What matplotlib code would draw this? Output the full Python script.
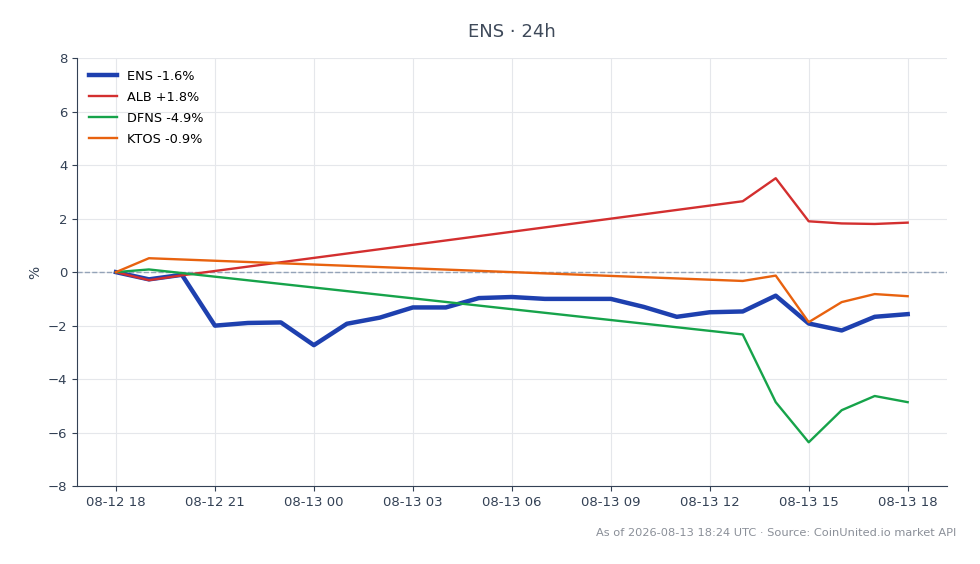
import datetime as dt
import matplotlib
matplotlib.use("Agg")
import matplotlib.pyplot as plt
import matplotlib.dates as mdates

# hours after 2026-08-12 18:00 UTC
start = dt.datetime(2026, 8, 12, 18)

ens_hours = list(range(25))
ens_pct = [0.0, -0.27, -0.1, -2.0, -1.9, -1.88, -2.73, -1.93, -1.7, -1.32, -1.32,
           -0.97, -0.93, -1.0, -1.0, -1.0, -1.3, -1.67, -1.5, -1.47, -0.88,
           -1.92, -2.18, -1.67, -1.57]

alb_hours = [0, 1, 2, 19, 20, 21, 22, 23, 24]
alb_pct = [0.0, -0.3, -0.12, 2.65, 3.51, 1.9, 1.82, 1.8, 1.85]

dfns_hours = [0, 1, 19, 20, 21, 22, 23, 24]
dfns_pct = [0.0, 0.1, -2.33, -4.86, -6.36, -5.16, -4.63, -4.86]

ktos_hours = [0, 1, 19, 20, 21, 22, 23, 24]
ktos_pct = [0.0, 0.52, -0.33, -0.13, -1.87, -1.12, -0.82, -0.9]

labels = ["ENS -1.6%", "ALB +1.8%", "DFNS -4.9%", "KTOS -0.9%"]


def to_times(hours):
    return [start + dt.timedelta(hours=h) for h in hours]


fig = plt.figure(figsize=(9.8, 5.64), dpi=100)
ax = fig.add_axes([0.0786, 0.138, 0.888, 0.759])

ax.plot(to_times(ens_hours), ens_pct, color="#1e40af", lw=3.2, label=labels[0], zorder=3)
ax.plot(to_times(alb_hours), alb_pct, color="#d32f2f", lw=1.7, label=labels[1], zorder=4)
ax.plot(to_times(dfns_hours), dfns_pct, color="#16a34a", lw=1.7, label=labels[2], zorder=4)
ax.plot(to_times(ktos_hours), ktos_pct, color="#e8620f", lw=1.7, label=labels[3], zorder=4)

ax.axhline(0, color="#94a3b8", lw=1, ls="--", zorder=2)

ax.set_ylim(-8, 8)
ax.set_yticks(range(-8, 9, 2))
ax.set_yticklabels([str(v).replace("-", "\u2212") for v in range(-8, 9, 2)])
ax.set_xlim(start - dt.timedelta(hours=1.18), start + dt.timedelta(hours=25.2))
ax.xaxis.set_major_locator(mdates.HourLocator(byhour=range(0, 24, 3)))
ax.xaxis.set_major_formatter(mdates.DateFormatter("%m-%d %H"))

ax.grid(True, color="#e5e7eb", lw=0.8)
ax.set_axisbelow(True)
for s in ["top", "right"]:
    ax.spines[s].set_visible(False)
for s in ["left", "bottom"]:
    ax.spines[s].set_color("#334155")
ax.tick_params(colors="#334155", labelsize=9.5, labelcolor="#334155")
ax.set_ylabel("%", color="#334155", fontsize=10)

ax.set_title("ENS \u00b7 24h", color="#3f4a5a", fontsize=13, pad=15)
ax.legend(loc="upper left", frameon=False, fontsize=9.3, handlelength=2.2,
          borderaxespad=0.5, labelspacing=0.62)

fig.text(0.976, 0.055, "As of 2026-08-13 18:24 UTC \u00b7 Source: CoinUnited.io market API",
         ha="right", va="center", color="#8a8f98", fontsize=8.2)

fig.savefig("out.png", dpi=100)
